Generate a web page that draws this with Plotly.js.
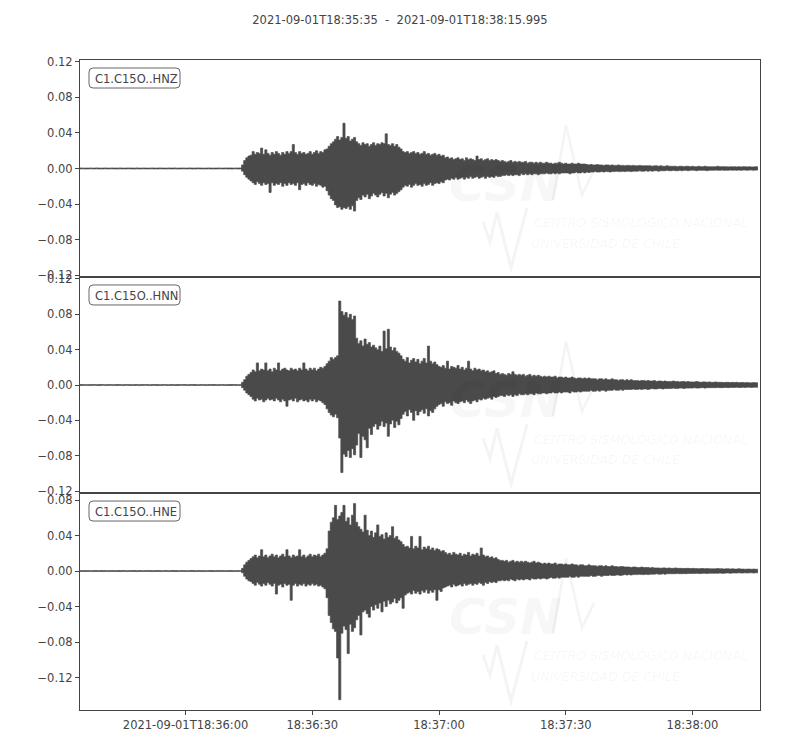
<!DOCTYPE html>
<html>
<head>
<meta charset="utf-8">
<script src="https://cdn.plot.ly/plotly-3.0.1.min.js"></script>
<style>body{margin:0;background:#fff}</style>
</head>
<body>
<div id="plot" style="width:800px;height:750px"></div>
<script>
// record window; traces are stored min/max decimated (one pair per bin)
var startTime = '2021-09-01 18:35:35';
var endTime = '2021-09-01 18:38:15.995';
var binWidth = 0.5; // seconds

var channels = ['C1.C15O..HNZ', 'C1.C15O..HNN', 'C1.C15O..HNE'];

var hnzMax = [
.0005,.0006,.0004,.0005,.0005,.0006,.0004,.0005,.0006,.0005,
.0004,.0005,.0006,.0005,.0004,.0006,.0005,.0005,.0004,.0006,
.0005,.0004,.0005,.0006,.0005,.0005,.0004,.0006,.0005,.0004,
.0006,.0005,.0005,.0004,.0006,.0005,.0004,.0005,.0006,.0005,
.0005,.0004,.0006,.0005,.0005,.0006,.0004,.0005,.0005,.0006,
.0004,.0005,.0006,.0005,.0004,.0005,.0006,.0005,.0005,.0004,
.0005,.0006,.0005,.0004,.0005,.0005,.0006,.0004,.0005,.0006,
.0005,.0006,.0005,.0004,.0006,.0005,.0006,.004,.009,.012,
.014,.015,.019,.016,.018,.017,.023,.016,.021,.017,
.015,.018,.016,.019,.017,.015,.018,.016,.019,.017,
.019,.027,.018,.016,.019,.017,.018,.016,.017,.019,
.016,.018,.020,.017,.019,.018,.021,.022,.025,.028,
.030,.033,.036,.032,.035,.051,.034,.036,.031,.033,
.035,.030,.028,.026,.029,.027,.028,.025,.027,.029,
.026,.028,.027,.029,.028,.039,.027,.026,.028,.025,
.027,.024,.022,.019,.018,.019,.017,.018,.019,.017,
.018,.016,.017,.019,.016,.017,.015,.016,.017,.015,
.016,.014,.015,.012,.013,.011,.012,.010,.011,.012,
.010,.011,.009,.012,.010,.011,.010,.009,.014,.010,
.011,.009,.010,.011,.009,.010,.009,.010,.009,.008,
.009,.008,.007,.008,.009,.007,.008,.007,.008,.007,
.007,.008,.006,.007,.007,.006,.007,.006,.007,.006,
.006,.007,.006,.006,.005,.006,.006,.007,.006,.005,
.006,.005,.005,.006,.005,.005,.006,.005,.005,.005,
.0045,.004,.0045,.004,.004,.0045,.004,.004,.0035,.004,
.004,.0035,.004,.0035,.0035,.004,.0035,.0035,.003,.0035,
.0035,.003,.0035,.003,.003,.0035,.003,.003,.003,.003,
.003,.0025,.003,.003,.0025,.003,.0025,.0025,.003,.0025,
.0025,.0025,.0025,.002,.0025,.0025,.002,.0025,.0025,.002,
.0025,.002,.002,.0025,.002,.002,.0025,.002,.002,.002,
.002,.002,.0025,.002,.002,.002,.002,.0018,.002,.002,
.002,.0018,.002,.0018,.002,.002,.0018,.002,.0018,.0018,
.002,.0018
];
var hnzMin = [
-.0005,-.0004,-.0006,-.0005,-.0005,-.0004,-.0006,-.0005,-.0004,-.0005,
-.0006,-.0005,-.0004,-.0005,-.0006,-.0004,-.0005,-.0005,-.0006,-.0004,
-.0005,-.0006,-.0005,-.0004,-.0005,-.0005,-.0006,-.0004,-.0005,-.0006,
-.0004,-.0005,-.0005,-.0006,-.0004,-.0005,-.0006,-.0005,-.0004,-.0005,
-.0005,-.0006,-.0004,-.0005,-.0005,-.0004,-.0006,-.0005,-.0005,-.0004,
-.0006,-.0005,-.0004,-.0005,-.0006,-.0005,-.0004,-.0005,-.0005,-.0006,
-.0005,-.0004,-.0005,-.0006,-.0005,-.0005,-.0004,-.0006,-.0005,-.0004,
-.0005,-.0005,-.0006,-.0005,-.0004,-.0006,-.0005,-.003,-.007,-.010,
-.012,-.014,-.016,-.018,-.015,-.017,-.019,-.016,-.018,-.017,
-.027,-.016,-.019,-.017,-.018,-.016,-.020,-.017,-.019,-.016,
-.018,-.017,-.019,-.016,-.024,-.018,-.017,-.019,-.016,-.018,
-.019,-.017,-.020,-.018,-.019,-.021,-.020,-.025,-.030,-.034,
-.036,-.041,-.044,-.043,-.046,-.044,-.045,-.043,-.046,-.042,
-.048,-.036,-.033,-.035,-.030,-.032,-.029,-.034,-.031,-.028,
-.030,-.032,-.029,-.027,-.031,-.028,-.033,-.029,-.027,-.030,
-.028,-.026,-.024,-.021,-.019,-.020,-.018,-.021,-.019,-.017,
-.019,-.018,-.020,-.017,-.019,-.018,-.016,-.019,-.017,-.016,
-.017,-.015,-.016,-.013,-.012,-.013,-.011,-.012,-.010,-.012,
-.011,-.010,-.012,-.010,-.011,-.009,-.011,-.010,-.009,-.011,
-.010,-.009,-.011,-.009,-.010,-.009,-.010,-.008,-.009,-.009,
-.008,-.008,-.007,-.008,-.007,-.008,-.007,-.007,-.008,-.006,
-.007,-.006,-.007,-.006,-.007,-.006,-.006,-.007,-.006,-.006,
-.006,-.005,-.006,-.006,-.005,-.006,-.005,-.006,-.005,-.005,
-.005,-.005,-.006,-.005,-.005,-.004,-.005,-.005,-.004,-.005,
-.004,-.0045,-.004,-.004,-.0035,-.004,-.004,-.0035,-.004,-.0035,
-.0035,-.004,-.0035,-.0035,-.003,-.0035,-.0035,-.003,-.0035,-.003,
-.003,-.0035,-.003,-.003,-.003,-.0025,-.003,-.003,-.0025,-.003,
-.0025,-.003,-.0025,-.0025,-.003,-.0025,-.0025,-.0025,-.002,-.0025,
-.0025,-.002,-.0025,-.0025,-.002,-.0025,-.002,-.002,-.0025,-.002,
-.002,-.002,-.0025,-.002,-.002,-.002,-.002,-.0025,-.002,-.002,
-.002,-.0018,-.002,-.002,-.0018,-.002,-.002,-.002,-.0018,-.002,
-.0018,-.002,-.0018,-.002,-.0018,-.0018,-.002,-.0018,-.0018,-.002,
-.0018,-.0018
];

var hnnMax = [
.0006,.0005,.0005,.0004,.0006,.0005,.0005,.0006,.0004,.0005,
.0005,.0006,.0004,.0005,.0006,.0005,.0004,.0005,.0005,.0006,
.0004,.0005,.0006,.0005,.0005,.0004,.0006,.0005,.0004,.0005,
.0005,.0006,.0005,.0004,.0005,.0006,.0005,.0005,.0004,.0006,
.0005,.0005,.0004,.0006,.0005,.0004,.0005,.0006,.0005,.0005,
.0006,.0004,.0005,.0005,.0006,.0005,.0004,.0006,.0005,.0005,
.0004,.0005,.0006,.0005,.0005,.0004,.0005,.0006,.0005,.0004,
.0005,.0006,.0005,.0005,.0006,.0004,.0006,.003,.006,.010,
.012,.014,.017,.015,.025,.016,.018,.017,.025,.016,
.018,.015,.019,.017,.025,.016,.018,.019,.017,.016,
.019,.017,.018,.016,.019,.017,.025,.018,.016,.019,
.017,.019,.016,.018,.020,.019,.021,.024,.027,.031,
.029,.031,.033,.095,.083,.079,.082,.076,.080,.074,
.078,.053,.047,.050,.044,.052,.046,.048,.043,.045,
.042,.040,.044,.038,.061,.041,.063,.043,.039,.042,
.038,.036,.033,.029,.027,.031,.025,.028,.030,.026,
.029,.024,.027,.030,.025,.044,.027,.024,.026,.023,
.021,.020,.022,.019,.027,.018,.021,.020,.019,.022,
.018,.020,.017,.019,.027,.018,.016,.019,.017,.018,
.016,.017,.015,.016,.014,.015,.016,.013,.014,.012,
.013,.012,.011,.013,.012,.015,.012,.011,.012,.011,
.012,.010,.011,.012,.010,.011,.010,.011,.010,.009,
.010,.009,.010,.009,.009,.010,.008,.009,.009,.008,
.009,.008,.008,.009,.008,.007,.008,.008,.007,.008,
.007,.008,.007,.007,.007,.006,.007,.007,.006,.007,
.006,.006,.007,.006,.006,.005,.006,.006,.005,.006,
.005,.006,.005,.005,.005,.0045,.005,.005,.0045,.005,
.0045,.0045,.005,.004,.0045,.0045,.004,.0045,.004,.004,
.004,.0045,.004,.004,.0035,.004,.004,.0035,.004,.0035,
.0035,.0035,.004,.0035,.003,.0035,.0035,.003,.0035,.003,
.003,.0035,.003,.003,.003,.0028,.003,.003,.0028,.003,
.0028,.003,.0025,.0028,.0028,.0025,.0028,.0025,.0025,.0028,
.0025,.0025
];
var hnnMin = [
-.0005,-.0006,-.0004,-.0005,-.0005,-.0006,-.0005,-.0004,-.0005,-.0006,
-.0005,-.0004,-.0006,-.0005,-.0005,-.0004,-.0006,-.0005,-.0005,-.0004,
-.0006,-.0005,-.0004,-.0005,-.0006,-.0005,-.0005,-.0004,-.0006,-.0005,
-.0005,-.0004,-.0005,-.0006,-.0005,-.0004,-.0005,-.0006,-.0005,-.0005,
-.0004,-.0006,-.0005,-.0005,-.0004,-.0005,-.0006,-.0005,-.0004,-.0005,
-.0005,-.0006,-.0005,-.0004,-.0005,-.0006,-.0005,-.0005,-.0004,-.0006,
-.0005,-.0005,-.0004,-.0006,-.0005,-.0005,-.0006,-.0004,-.0005,-.0005,
-.0005,-.0005,-.0006,-.0004,-.0005,-.0006,-.0005,-.003,-.006,-.009,
-.011,-.013,-.016,-.018,-.015,-.017,-.016,-.019,-.017,-.015,
-.017,-.016,-.018,-.015,-.017,-.019,-.016,-.018,-.024,-.017,
-.016,-.018,-.015,-.019,-.017,-.016,-.018,-.017,-.019,-.016,
-.018,-.016,-.019,-.017,-.018,-.020,-.022,-.027,-.031,-.034,
-.036,-.033,-.037,-.060,-.099,-.078,-.081,-.074,-.082,-.072,
-.079,-.068,-.055,-.082,-.058,-.062,-.071,-.049,-.056,-.047,
-.044,-.050,-.046,-.041,-.047,-.043,-.058,-.044,-.040,-.048,
-.041,-.045,-.038,-.033,-.030,-.035,-.028,-.031,-.040,-.029,
-.034,-.030,-.028,-.032,-.027,-.035,-.029,-.031,-.027,-.024,
-.022,-.021,-.024,-.019,-.021,-.020,-.023,-.018,-.020,-.021,
-.019,-.018,-.020,-.017,-.019,-.021,-.018,-.017,-.019,-.016,
-.017,-.015,-.016,-.015,-.014,-.016,-.013,-.014,-.013,-.012,
-.012,-.013,-.011,-.012,-.011,-.013,-.011,-.012,-.010,-.011,
-.011,-.010,-.011,-.010,-.010,-.011,-.009,-.010,-.010,-.009,
-.009,-.010,-.009,-.009,-.008,-.009,-.009,-.008,-.009,-.008,
-.008,-.008,-.009,-.007,-.008,-.008,-.007,-.008,-.007,-.007,
-.007,-.007,-.006,-.007,-.007,-.006,-.007,-.006,-.006,-.007,
-.006,-.006,-.006,-.005,-.006,-.006,-.005,-.006,-.005,-.005,
-.005,-.005,-.0045,-.005,-.005,-.0045,-.005,-.0045,-.0045,-.005,
-.0045,-.004,-.0045,-.0045,-.004,-.004,-.0045,-.004,-.004,-.004,
-.004,-.0035,-.004,-.004,-.0035,-.0035,-.004,-.0035,-.0035,-.0035,
-.0035,-.003,-.0035,-.0035,-.003,-.003,-.0035,-.003,-.003,-.003,
-.003,-.003,-.0028,-.003,-.003,-.0028,-.0028,-.003,-.0028,-.0028,
-.0028,-.0025,-.0028,-.0028,-.0025,-.0028,-.0025,-.0025,-.0028,-.0025,
-.0025,-.0025
];

var hneMax = [
.0005,.0004,.0006,.0005,.0005,.0004,.0005,.0006,.0005,.0004,
.0006,.0005,.0005,.0004,.0005,.0006,.0005,.0004,.0006,.0005,
.0005,.0006,.0004,.0005,.0005,.0006,.0005,.0004,.0005,.0006,
.0004,.0005,.0006,.0005,.0005,.0004,.0006,.0005,.0005,.0004,
.0006,.0005,.0004,.0005,.0006,.0005,.0005,.0004,.0006,.0005,
.0005,.0004,.0005,.0006,.0005,.0004,.0006,.0005,.0005,.0005,
.0004,.0006,.0005,.0005,.0004,.0006,.0005,.0005,.0006,.0004,
.0005,.0006,.0005,.0004,.0005,.0006,.0005,.003,.007,.010,
.012,.014,.016,.018,.015,.017,.024,.016,.018,.015,
.017,.019,.016,.018,.015,.017,.019,.016,.024,.017,
.015,.018,.016,.017,.024,.016,.018,.015,.017,.019,
.016,.018,.017,.019,.016,.018,.020,.025,.045,.055,
.060,.074,.058,.062,.066,.074,.056,.060,.052,.063,
.076,.055,.050,.047,.044,.063,.046,.040,.045,.038,
.043,.052,.039,.041,.036,.043,.038,.040,.050,.037,
.039,.035,.033,.030,.027,.028,.026,.039,.025,.028,
.026,.039,.024,.027,.025,.028,.024,.026,.023,.025,
.024,.022,.023,.021,.019,.020,.018,.021,.019,.018,
.020,.017,.019,.018,.021,.017,.019,.018,.020,.017,
.026,.018,.016,.017,.015,.016,.014,.015,.013,.012,
.012,.011,.012,.010,.011,.012,.010,.011,.010,.011,
.010,.011,.010,.009,.010,.011,.009,.010,.009,.008,
.009,.008,.009,.008,.008,.009,.007,.008,.008,.007,
.008,.007,.007,.008,.007,.007,.006,.007,.007,.006,
.006,.007,.006,.006,.006,.005,.006,.006,.005,.006,
.005,.005,.006,.005,.005,.0045,.005,.005,.0045,.0045,
.0045,.004,.0045,.0045,.004,.004,.0045,.004,.004,.004,
.0035,.004,.0035,.0035,.0035,.003,.0035,.0035,.003,.0035,
.003,.003,.0035,.003,.003,.003,.0028,.003,.003,.0028,
.003,.0028,.0028,.0025,.0028,.0028,.0025,.0028,.0025,.0025,
.0025,.0025,.0028,.0025,.0025,.0022,.0025,.0025,.0022,.0025,
.0022,.0022,.0025,.0022,.0022,.002,.0022,.0022,.002,.0022,
.002,.002
];
var hneMin = [
-.0004,-.0005,-.0005,-.0006,-.0004,-.0005,-.0006,-.0005,-.0004,-.0005,
-.0005,-.0006,-.0005,-.0004,-.0006,-.0005,-.0005,-.0004,-.0005,-.0006,
-.0005,-.0004,-.0006,-.0005,-.0005,-.0004,-.0005,-.0006,-.0005,-.0004,
-.0006,-.0005,-.0004,-.0005,-.0006,-.0005,-.0004,-.0005,-.0006,-.0005,
-.0004,-.0005,-.0006,-.0005,-.0004,-.0006,-.0005,-.0005,-.0004,-.0005,
-.0006,-.0005,-.0005,-.0004,-.0006,-.0005,-.0004,-.0005,-.0006,-.0005,
-.0005,-.0004,-.0006,-.0005,-.0005,-.0004,-.0006,-.0005,-.0004,-.0005,
-.0005,-.0004,-.0006,-.0005,-.0005,-.0006,-.0005,-.002,-.006,-.009,
-.011,-.012,-.014,-.016,-.013,-.015,-.017,-.014,-.016,-.013,
-.015,-.017,-.014,-.026,-.016,-.015,-.018,-.014,-.016,-.015,
-.033,-.016,-.014,-.017,-.015,-.016,-.014,-.017,-.015,-.016,
-.014,-.016,-.015,-.017,-.016,-.018,-.020,-.030,-.050,-.058,
-.065,-.068,-.098,-.145,-.070,-.062,-.066,-.093,-.060,-.068,
-.064,-.055,-.050,-.072,-.046,-.044,-.048,-.052,-.040,-.044,
-.038,-.042,-.036,-.046,-.034,-.040,-.033,-.037,-.035,-.031,
-.036,-.033,-.030,-.042,-.027,-.025,-.024,-.026,-.022,-.025,
-.023,-.026,-.022,-.024,-.021,-.025,-.022,-.024,-.021,-.033,
-.021,-.023,-.019,-.018,-.017,-.016,-.018,-.015,-.017,-.016,
-.015,-.017,-.014,-.016,-.015,-.014,-.016,-.014,-.015,-.013,
-.014,-.016,-.013,-.014,-.012,-.013,-.012,-.013,-.011,-.011,
-.010,-.011,-.010,-.011,-.009,-.010,-.011,-.009,-.010,-.009,
-.010,-.009,-.009,-.010,-.008,-.009,-.009,-.008,-.009,-.008,
-.008,-.009,-.008,-.007,-.008,-.008,-.007,-.008,-.007,-.007,
-.007,-.007,-.006,-.007,-.007,-.006,-.007,-.006,-.006,-.006,
-.006,-.006,-.005,-.006,-.006,-.005,-.005,-.006,-.005,-.005,
-.005,-.0045,-.005,-.005,-.0045,-.0045,-.005,-.0045,-.004,-.0045,
-.004,-.0045,-.004,-.004,-.004,-.0035,-.004,-.004,-.0035,-.004,
-.0035,-.0035,-.0035,-.003,-.0035,-.0035,-.003,-.0035,-.003,-.003,
-.003,-.003,-.003,-.0028,-.003,-.003,-.0028,-.003,-.0028,-.0028,
-.0028,-.0028,-.0025,-.0028,-.0028,-.0025,-.0025,-.0028,-.0025,-.0025,
-.0025,-.0025,-.0025,-.0022,-.0025,-.0025,-.0022,-.0022,-.0025,-.0022,
-.0022,-.0022,-.002,-.0022,-.0022,-.002,-.0022,-.002,-.002,-.0022,
-.002,-.002
];

var tickVals = ['2021-09-01 18:36:00', '2021-09-01 18:36:30', '2021-09-01 18:37:00',
                '2021-09-01 18:37:30', '2021-09-01 18:38:00'];
var tickText = ['2021-09-01T18:36:00', '18:36:30', '18:37:00', '18:37:30', '18:38:00'];

var yRanges = [[-0.1222, 0.1222], [-0.1222, 0.1222], [-0.1566, 0.0879]];


function binTimes(n){
    var t0 = Date.parse(startTime.replace(' ', 'T') + 'Z');
    var out = [];
    for (var i = 0; i < n; i++) {
        out.push(new Date(t0 + i * binWidth * 1000).toISOString().replace('T', ' ').replace('Z', ''));
    }
    return out;
}

var ink = '#4a4a4a';
var axisColor = '#444';
var font = {family: 'DejaVu Sans', size: 11.5, color: axisColor};
var markColor = 'rgba(0,0,0,0.045)';

var maxima = [hnzMax, hnnMax, hneMax];
var minima = [hnzMin, hnnMin, hneMin];
var domains = [[0.6662, 1], [0.3338, 0.6662], [0, 0.3338]];

var data = [];
var layout = {
    width: 800,
    height: 750,
    margin: {l: 80, r: 40, t: 60, b: 40},
    paper_bgcolor: '#fff',
    plot_bgcolor: '#fff',
    font: font,
    showlegend: false,
    title: {
        text: '2021-09-01T18:35:35\u00a0\u00a0-\u00a0\u00a02021-09-01T18:38:15.995',
        font: font,
        xref: 'container', x: 0.5, xanchor: 'center',
        yref: 'container', y: 0.973, yanchor: 'middle'
    },
    annotations: [],
    shapes: []
};

for (var k = 0; k < 3; k++) {
    var sfx = k === 0 ? '' : String(k + 1);
    var xd = 'x' + sfx + ' domain';
    var yd = 'y' + sfx + ' domain';
    var times = binTimes(maxima[k].length);

    // lower edge, then upper edge filled down to it
    data.push({
        x: times, y: minima[k],
        xaxis: 'x' + sfx, yaxis: 'y' + sfx,
        type: 'scatter', mode: 'lines',
        line: {color: ink, width: 0.7, shape: 'hvh', simplify: false},
        hoverinfo: 'skip'
    });
    data.push({
        x: times, y: maxima[k],
        xaxis: 'x' + sfx, yaxis: 'y' + sfx,
        type: 'scatter', mode: 'lines',
        fill: 'tonexty', fillcolor: ink,
        line: {color: ink, width: 0.7, shape: 'hvh', simplify: false},
        hoverinfo: 'skip'
    });

    var bottom = k === 2;
    layout['xaxis' + sfx] = {
        type: 'date',
        domain: [0, 1],
        anchor: 'y' + sfx,
        range: [startTime, endTime],
        tickmode: 'array',
        tickvals: tickVals,
        ticktext: tickText,
        showticklabels: bottom,
        ticks: bottom ? 'outside' : '',
        ticklen: 4,
        tickcolor: axisColor,
        showgrid: false,
        zeroline: false,
        showline: true,
        mirror: true,
        linecolor: axisColor,
        linewidth: 1
    };
    layout['yaxis' + sfx] = {
        domain: domains[k],
        anchor: 'x' + sfx,
        range: yRanges[k],
        tick0: 0,
        dtick: 0.04,
        tickformat: '.2f',
        ticks: 'outside',
        ticklen: 4,
        tickcolor: axisColor,
        showgrid: false,
        zeroline: false,
        showline: true,
        mirror: true,
        linecolor: axisColor,
        linewidth: 1
    };

    // faint CSN watermark: letters, seismic strokes, institution name
    layout.annotations.push({
        xref: xd, yref: yd, x: 0.625, y: 0.43, xanchor: 'center', yanchor: 'middle',
        text: '<b><i>CSN</i></b>', showarrow: false,
        font: {family: 'DejaVu Sans', size: 50, color: 'rgba(0,0,0,0.03)'}
    });
    layout.shapes.push({
        type: 'path', xref: xd, yref: yd, layer: 'below',
        path: 'M 0.6956,0.355 L 0.7147,0.70 L 0.7382,0.378 L 0.7559,0.493',
        line: {color: '#f4f4f4', width: 2.5}
    });
    layout.shapes.push({
        type: 'path', xref: xd, yref: yd, layer: 'below',
        path: 'M 0.5926,0.2535 L 0.6029,0.1613 L 0.6132,0.2995 L 0.6338,0.0415 L 0.6574,0.318',
        line: {color: '#f4f4f4', width: 3}
    });
    layout.annotations.push({
        xref: xd, yref: yd, x: 0.665, y: 0.25, xanchor: 'left', yanchor: 'middle',
        text: '<i>CENTRO SISMOLÓGICO NACIONAL</i>', showarrow: false,
        font: {family: 'DejaVu Sans', size: 12.5, color: markColor}
    });
    layout.annotations.push({
        xref: xd, yref: yd, x: 0.66, y: 0.155, xanchor: 'left', yanchor: 'middle',
        text: '<i>UNIVERSIDAD DE CHILE</i>', showarrow: false,
        font: {family: 'DejaVu Sans', size: 12.5, color: markColor}
    });

    // channel label in a rounded box
    layout.shapes.push({
        type: 'path', xref: xd, yref: yd,
        xsizemode: 'pixel', ysizemode: 'pixel', xanchor: 0, yanchor: 1,
        path: 'M 13,-8 L 96,-8 Q 100,-8 100,-12 L 100,-24 Q 100,-28 96,-28 L 13,-28 Q 9,-28 9,-24 L 9,-12 Q 9,-8 13,-8 Z',
        line: {color: '#666', width: 1},
        fillcolor: 'rgba(255,255,255,0.8)'
    });
    layout.annotations.push({
        xref: xd, yref: yd, x: 0, y: 1, xanchor: 'left', yanchor: 'top',
        xshift: 13, yshift: -10,
        text: channels[k], showarrow: false,
        font: font
    });
}

Plotly.newPlot('plot', data, layout, {staticPlot: true});
</script>
</body>
</html>
